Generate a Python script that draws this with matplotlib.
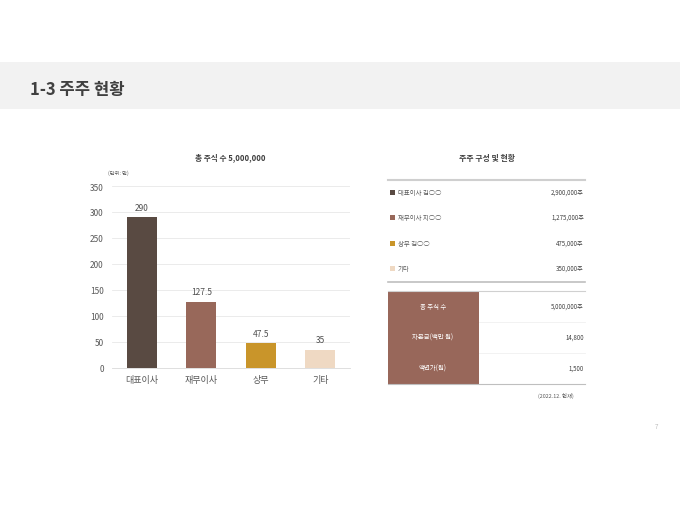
import numpy as np
import matplotlib.pyplot as plt
from matplotlib.patches import Rectangle

plt.rcParams['font.family'] = ['Noto Sans CJK KR', 'DejaVu Sans']

### Data ###
categories = ['대표이사', '재무이사', '상무', '기타']
shares = [290, 127.5, 47.5, 35]
barColors = ['#594a42', '#98685a', '#c9952a', '#efd9c3']
yTicks = [0, 50, 100, 150, 200, 250, 300, 350]

holderNames = ['대표이사 김○○', '재무이사 지○○', '상무 김○○', '기타']
holderShares = ['2,900,000주', '1,275,000주', '475,000주', '350,000주']

infoLabels = ['총 주식 수', '자본금(백만 원)', '액면가(원)']
infoValues = ['5,000,000주', '14,800', '1,500']

W, H = 680, 510
fig = plt.figure(figsize=(W / 100, H / 100), dpi=100)
fig.patch.set_facecolor('white')

def fx(x):
    return x / W

def fy(y):
    return 1 - y / H

### Header band ###
fig.patches.append(Rectangle((0, fy(110)), 1, (110 - 63) / H, transform=fig.transFigure,
                             facecolor='#f2f2f2', edgecolor='none', zorder=0))
fig.text(fx(30), fy(90), '1-3 주주 현황', fontsize=12, fontweight='bold',
         color='#404040', va='center', ha='left')
fig.text(fx(656), fy(427), '7', fontsize=4.5, color='#bfbfbf', va='center', ha='center')

### Bar chart ###
ax = fig.add_axes([fx(112), fy(369), (350 - 112) / W, (369 - 187) / H])
x = np.arange(len(categories))
bars = ax.bar(x, shares, width=0.5, color=barColors, zorder=3)
ax.set_xlim(-0.5, len(categories) - 0.5)
ax.set_ylim(0, 350)
ax.set_yticks(yTicks)
ax.set_xticks(x)
ax.set_xticklabels(categories, fontsize=6.5, color='#595959')
ax.tick_params(axis='y', labelsize=6, colors='#595959', length=0, pad=6)
ax.tick_params(axis='x', length=0, pad=5)
ax.grid(axis='y', color='#e8e8e8', linewidth=0.6, zorder=0)
for s in ['top', 'right', 'left']:
    ax.spines[s].set_visible(False)
ax.spines['bottom'].set_color('#d9d9d9')
ax.spines['bottom'].set_linewidth(0.6)
for xi, v in zip(x, shares):
    ax.annotate(f'{v:g}', (xi, v), xytext=(0, 4), textcoords='offset points',
                ha='center', va='bottom', fontsize=6, color='#505050')

fig.text(fx(230), fy(158), '총 주식 수 5,000,000', fontsize=5.5, fontweight='bold',
         color='#404040', ha='center', va='center')
fig.text(fx(108), fy(173), '(단위: 만)', fontsize=3.8, color='#595959', ha='left', va='center')

### Holders table ###
fig.text(fx(487), fy(158), '주주 구성 및 현황', fontsize=5.7, fontweight='bold',
         color='#404040', ha='center', va='center')
fig.add_artist(plt.Line2D([fx(388), fx(585)], [fy(181), fy(181)], color='#cfcfcf', linewidth=1.5))
fig.add_artist(plt.Line2D([fx(388), fx(585)], [fy(283), fy(283)], color='#bfbfbf', linewidth=1.2))
rowY = [193, 218, 244, 269]
for name, val, col, ry in zip(holderNames, holderShares, barColors, rowY):
    fig.patches.append(Rectangle((fx(390), fy(ry + 2.5)), 5 / W, 5 / H, transform=fig.transFigure,
                                 facecolor=col, edgecolor='none'))
    fig.text(fx(398), fy(ry), name, fontsize=4.6, color='#595959', ha='left', va='center')
    fig.text(fx(584), fy(ry), val, fontsize=4.4, color='#404040', ha='right', va='center')

### Info table ###
fig.patches.append(Rectangle((fx(388), fy(385)), (479 - 388) / W, (385 - 292) / H,
                             transform=fig.transFigure, facecolor='#98675a', edgecolor='none'))
fig.add_artist(plt.Line2D([fx(388), fx(585)], [fy(292), fy(292)], color='#d0d0d0', linewidth=0.8))
fig.add_artist(plt.Line2D([fx(388), fx(585)], [fy(385), fy(385)], color='#bfbfbf', linewidth=0.8))
for sy in [323, 354]:
    fig.add_artist(plt.Line2D([fx(479), fx(585)], [fy(sy), fy(sy)], color='#f0f0f0', linewidth=0.6))
infoY = [307, 338, 369]
for lab, val, ry in zip(infoLabels, infoValues, infoY):
    fig.text(fx(433), fy(ry), lab, fontsize=4.6, color='white', ha='center', va='center')
    fig.text(fx(584), fy(ry), val, fontsize=4.4, color='#404040', ha='right', va='center')
fig.text(fx(574), fy(396), '(2022.12. 현재)', fontsize=3.9, color='#595959', ha='right', va='center')

fig.savefig('out.png', dpi=100, facecolor='white')
